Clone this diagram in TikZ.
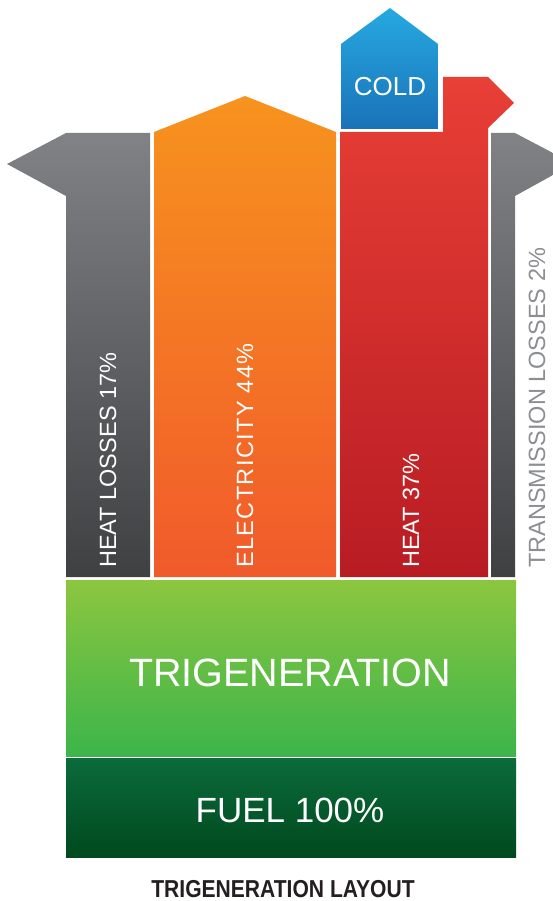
\documentclass[tikz,border=0pt]{standalone}
\usepackage{fontspec}
\setmainfont{Liberation Sans}

\definecolor{graytop}{HTML}{808285}
\definecolor{graybot}{HTML}{3F4042}
\definecolor{orangetop}{HTML}{F7931E}
\definecolor{orangebot}{HTML}{F15A2B}
\definecolor{redtop}{HTML}{E83F36}
\definecolor{redbot}{HTML}{B81C23}
\definecolor{bluetop}{HTML}{26A9E0}
\definecolor{bluebot}{HTML}{1A72B9}
\definecolor{greentop}{HTML}{8CC63F}
\definecolor{greenbot}{HTML}{3CB54A}
\definecolor{fueltop}{HTML}{0B6B3A}
\definecolor{fuelbot}{HTML}{00491F}
\definecolor{lossgray}{HTML}{8D8E91}
\definecolor{titlegray}{HTML}{231F20}

\tikzset{
  lbl/.style={text=white, inner sep=0pt},
  vlbl/.style={lbl, rotate=90, anchor=west, font=\fontsize{23.5}{28}\selectfont},
}

\begin{document}
\begin{tikzpicture}[x=1pt, y=-1pt]
  \useasboundingbox (0,0) rectangle (553,901);  % keep the page the reference size

  % outputs
  \shade[top color=graytop, bottom color=graybot] (150,133) -- (66,133) -- (7,164) -- (66,196) -- (66,577) -- (150,577) -- cycle;
  \shade[top color=orangetop, bottom color=orangebot] (154,577) -- (154,132) -- (245,96) -- (336,132) -- (336,577) -- cycle;
  \shade[top color=redtop, bottom color=redbot] (340,577) -- (340,132) -- (443,132) -- (443,77) -- (488,77) -- (514,103) -- (488,128) -- (488,577) -- cycle;
  \shade[top color=bluetop, bottom color=bluebot] (341,129) -- (341,44) -- (390,8) -- (438,44) -- (438,129) -- cycle;
  \shade[top color=graytop, bottom color=graybot] (491,577) -- (491,133) -- (515,133) -- (553,153) -- (553,175) -- (515,196) -- (515,577) -- cycle;

  % plant and fuel
  \shade[top color=greentop, bottom color=greenbot] (66,580) rectangle (516,756);
  \shade[top color=fueltop, bottom color=fuelbot] (66,758) rectangle (516,857);

  \node[vlbl] (heatloss) at (108,568) {HEAT LOSSES 17\%};
  \node[vlbl, font=\fontsize{23.5}{28}\selectfont\addfontfeatures{LetterSpace=6}] (elec) at (245,568) {ELECTRICITY 44\%};
  \node[vlbl] (heat) at (411,568) {HEAT 37\%};
  \node[vlbl, text=lossgray] (transloss) at (537,568) {TRANSMISSION LOSSES 2\%};
  \node[lbl, font=\fontsize{26}{30}\selectfont] (cold) at (390,87) {COLD};

  \node[lbl, font=\fontsize{39.5}{44}\selectfont] (trigen) at (290,673) {TRIGENERATION};
  \node[lbl, font=\fontsize{35}{40}\selectfont] (fuel) at (290,810) {FUEL 100\%};

  \node[inner sep=0pt, xscale=0.86, text=titlegray, font=\bfseries\fontsize{24.5}{28}\selectfont] (title) at (283,889) {TRIGENERATION LAYOUT};
\end{tikzpicture}
\end{document}
